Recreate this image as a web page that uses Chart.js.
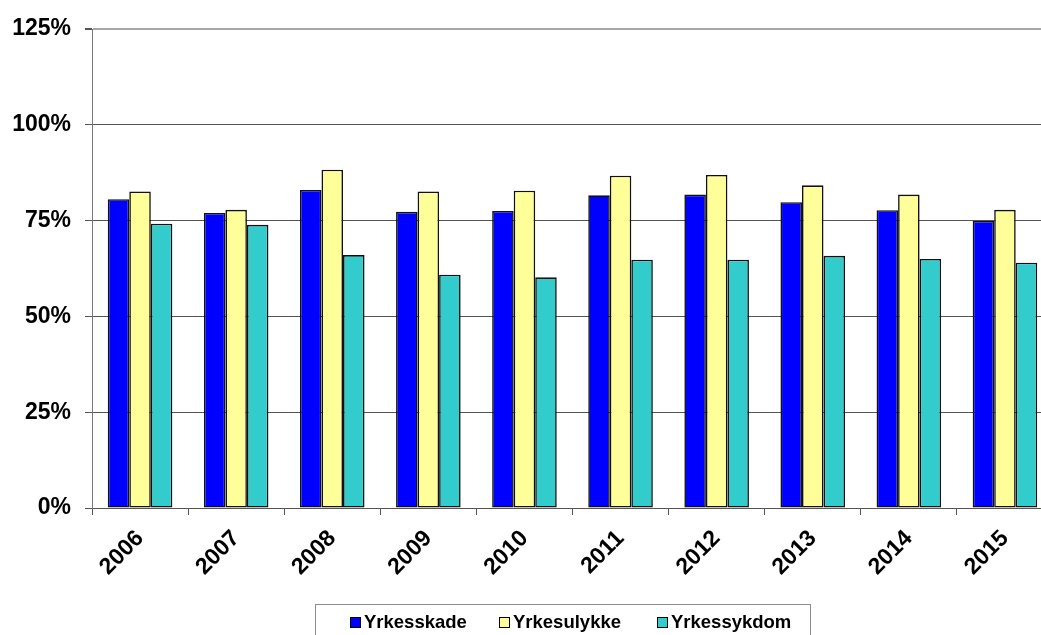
<!DOCTYPE html>
<html>
<head>
<meta charset="utf-8">
<script src="https://cdn.jsdelivr.net/npm/chart.js@4"></script>
<style>
  html, body { margin: 0; padding: 0; background: #fff; overflow: hidden; }
  .wrap { position: relative; width: 1056px; height: 635px; }
  .legend {
    position: absolute; left: 315px; top: 604px; width: 496px; height: 40px;
    border: 1px solid #8c8c8c; box-sizing: border-box;
    font: bold 18.5px "Liberation Sans", Arial, sans-serif; color: #000;
  }
  .legend span { position: absolute; top: 6px; white-space: nowrap; }
  .legend i {
    display: inline-block; width: 9px; height: 9px; border: 1px solid #000;
    margin-right: 3px; vertical-align: 0px;
  }
</style>
</head>
<body>
<div class="wrap">
  <canvas id="myChart"></canvas>
  <div class="legend" id="legend"></div>
</div>
<script>
const years = ["2006", "2007", "2008", "2009", "2010", "2011", "2012", "2013", "2014", "2015"];
const yrkesskade = [80.6, 77.0, 83.0, 77.3, 77.5, 81.6, 81.8, 79.8, 77.7, 74.9];
const yrkesulykke = [82.6, 77.8, 88.3, 82.6, 82.8, 86.7, 86.9, 84.2, 81.8, 77.8];
const yrkessykdom = [74.2, 73.9, 66.0, 60.9, 60.2, 64.8, 64.8, 65.8, 65.0, 64.0];
const yTicks = [0, 25, 50, 75, 100, 125];

const seriesNames = ["Yrkesskade", "Yrkesulykke", "Yrkessykdom"];
const seriesColors = ["#0000ff", "#ffff99", "#33cccc"];
const seriesData = [yrkesskade, yrkesulykke, yrkessykdom];

const font = { family: "'Liberation Sans', Arial, sans-serif", weight: "bold", size: 23 };

const config = {
    type: 'bar',
    data: {
        labels: years,
        datasets: seriesNames.map((name, i) => ({
            label: name,
            data: seriesData[i],
            backgroundColor: seriesColors[i],
            borderColor: "#111",
            borderWidth: 1.6,
            borderSkipped: false,
            categoryPercentage: 0.672,
            barPercentage: 1
        }))
    },
    options: {
        responsive: false,
        animation: false,
        layout: { padding: { top: 29, right: 3, left: 0, bottom: 0 } },
        plugins: {
            legend: { display: false },
            tooltip: { enabled: false }
        },
        scales: {
            x: {
                grid: {
                    display: true,
                    drawOnChartArea: false,
                    drawTicks: true,
                    tickLength: 7,
                    tickColor: "#555"
                },
                border: { color: "#555", width: 1 },
                ticks: {
                    font: font,
                    color: "#000",
                    minRotation: 45,
                    maxRotation: 45,
                    padding: 10,
                    autoSkip: false
                },
                afterFit: s => { s.height = 127; }
            },
            y: {
                min: 0,
                max: 125,
                afterBuildTicks: s => { s.ticks = yTicks.map(v => ({ value: v })); },
                grid: {
                    color: ctx => ctx.tick && ctx.tick.value === 125 ? "#a6a6a6" : "#555",
                    lineWidth: ctx => ctx.tick && ctx.tick.value === 125 ? 2 : 1,
                    tickLength: 7,
                    tickColor: "#555"
                },
                border: { color: "#777", width: 1 },
                ticks: {
                    font: font,
                    color: "#000",
                    padding: 14,
                    callback: v => v + "%"
                },
                afterFit: s => { s.width = 92; }
            }
        }
    }
};

const canvasElem = document.querySelector("#myChart");
canvasElem.width = 1056;
canvasElem.height = 635;
new Chart(canvasElem, config);

// legend, boxed like the original
const legendElem = document.querySelector("#legend");
const legendLeft = [34, 183, 341];
seriesNames.forEach((name, i) => {
    const item = document.createElement("span");
    item.style.left = legendLeft[i] + "px";
    item.innerHTML = `<i style="background:${seriesColors[i]}"></i>${name}`;
    legendElem.appendChild(item);
});
</script>
</body>
</html>
